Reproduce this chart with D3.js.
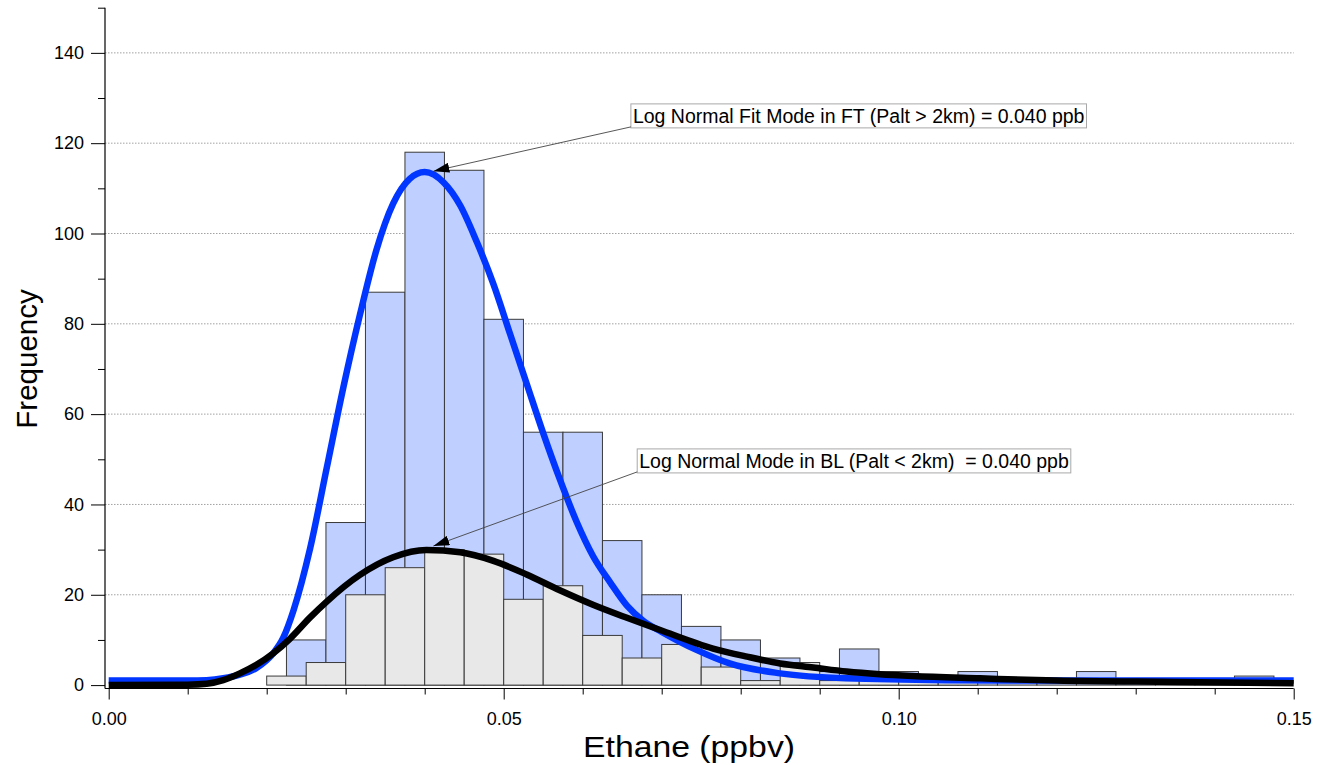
<!DOCTYPE html>
<html>
<head>
<meta charset="utf-8">
<script src="https://cdn.jsdelivr.net/npm/d3@7"></script>
<style>
    body { margin: 0; background: #fff; }
    svg { display: block; font-family: "Liberation Sans", Arial, sans-serif; }
</style>
</head>
<body>
<svg id="chart"></svg>
<script>
// histogram bins (ppbv), all bins 0.005 wide
var binWidth = 0.005;
var ftBinStart = 0.0225;   // free troposphere (Palt > 2km), blue
var ftCounts = [10, 36, 87, 118, 114, 81, 56, 56, 32, 20, 13, 10, 6, 3, 8, 3, 1, 3, 1, 1, 3, 1, 1, 1, 2];
var blBinStart = 0.020;    // boundary layer (Palt < 2km), grey
var blCounts = [2, 5, 20, 26, 30, 29, 19, 22, 11, 6, 9, 4, 1, 5, 1, 1, 1, 1];

// log normal fit curves
var ftFitX = [0.000, 0.010, 0.0124, 0.0145, 0.0166, 0.0187, 0.0208, 0.0221, 0.0234, 0.0255, 0.0276, 0.0297,
              0.0318, 0.0339, 0.0360, 0.0381, 0.0400, 0.0424, 0.0445, 0.0466, 0.0487, 0.0508, 0.0529, 0.0550,
              0.0571, 0.0592, 0.0613, 0.0635, 0.0656, 0.0677, 0.0700, 0.0744, 0.0786, 0.0850, 0.0934, 0.1060,
              0.1200, 0.1500];
var ftFitY = [1.0, 1.0, 1.1, 1.5, 2.3, 3.8, 7.0, 10.5, 16.6, 30.3, 48.1, 65.9,
              82.0, 96.4, 106.6, 112.1, 113.6, 111.3, 106.2, 98.1, 88.8, 77.8, 66.8, 55.8,
              45.6, 36.3, 28.6, 22.7, 17.6, 14.2, 11.8, 7.8, 4.8, 2.6, 1.5, 1.1,
              1.0, 1.0];
var blFitX = [0.000, 0.010, 0.0124, 0.0145, 0.0166, 0.0187, 0.0208, 0.0229, 0.0255, 0.0276, 0.0318, 0.0360,
              0.0402, 0.0445, 0.0487, 0.0529, 0.0571, 0.0613, 0.0656, 0.0698, 0.0765, 0.0808, 0.0850, 0.0892,
              0.0934, 0.0976, 0.1018, 0.1103, 0.1200, 0.1350, 0.1500];
var blFitY = [0.0, 0.1, 0.3, 1.1, 2.6, 4.5, 7.0, 10.2, 15.0, 18.5, 24.4, 28.3,
              29.9, 29.4, 27.5, 24.5, 21.0, 17.8, 14.9, 12.2, 8.1, 6.3, 4.8, 3.9,
              3.0, 2.4, 2.0, 1.5, 1.0, 0.7, 0.4];

var xTicks = [0, 0.05, 0.10, 0.15];
var xMinorTicks = [0.01, 0.02, 0.03, 0.04, 0.06, 0.07, 0.08, 0.09, 0.11, 0.12, 0.13, 0.14];
var yTicks = [0, 20, 40, 60, 80, 100, 120, 140];
var yMinorTicks = [10, 30, 50, 70, 90, 110, 130, 150];

var xTitle = "Ethane (ppbv)";
var yTitle = "Frequency";
var ftNote = "Log Normal Fit Mode in FT (Palt > 2km) = 0.040 ppb";
var blNote = "Log Normal Mode in BL (Palt < 2km)  = 0.040 ppb";

var width = 1328, height = 765;

var svg = d3.select("#chart")
    .attr("width", width)
    .attr("height", height);

// scales
var x = d3.scaleLinear().domain([0, 0.15]).range([108.7, 1293.7]);
var y = d3.scaleLinear().domain([0, 150]).range([685.1, 7.7]);

var axisX0 = 105;      // y axis line sits a little left of x=0
var axisY0 = 688.5;    // x axis line sits a little below y=0

// grid lines
svg.append("g")
    .selectAll("line")
    .data(yTicks.filter(function (d) { return d > 0; }))
    .enter()
    .append("line")
    .attr("x1", axisX0)
    .attr("x2", x(0.15))
    .attr("y1", function (d) { return y(d); })
    .attr("y2", function (d) { return y(d); })
    .style("stroke", "#8a8a8a")
    .style("stroke-width", 0.8)
    .style("stroke-dasharray", "1.5,1.5");

var barW = x(binWidth) - x(0);

// FT histogram
svg.append("g")
    .selectAll("rect")
    .data(ftCounts)
    .enter()
    .append("rect")
    .attr("x", function (d, i) { return x(ftBinStart + i * binWidth); })
    .attr("y", function (d) { return y(d); })
    .attr("width", barW)
    .attr("height", function (d) { return y(0) - y(d); })
    .style("fill", "#bfcfff")
    .style("stroke", "#3a3a3a")
    .style("stroke-width", 1);

// BL histogram
svg.append("g")
    .selectAll("rect")
    .data(blCounts)
    .enter()
    .append("rect")
    .attr("x", function (d, i) { return x(blBinStart + i * binWidth); })
    .attr("y", function (d) { return y(d); })
    .attr("width", barW)
    .attr("height", function (d) { return y(0) - y(d); })
    .style("fill", "#e8e8e8")
    .style("stroke", "#3a3a3a")
    .style("stroke-width", 1);

// fit curves
var line = d3.line()
    .x(function (d) { return x(d[0]); })
    .y(function (d) { return y(d[1]); })
    .curve(d3.curveMonotoneX);

svg.append("path")
    .datum(d3.zip(ftFitX, ftFitY))
    .attr("d", line)
    .style("fill", "none")
    .style("stroke", "#0036ff")
    .style("stroke-width", 6.5)
    .style("stroke-linejoin", "round");

svg.append("path")
    .datum(d3.zip(blFitX, blFitY))
    .attr("d", line)
    .style("fill", "none")
    .style("stroke", "#000")
    .style("stroke-width", 6.5)
    .style("stroke-linejoin", "round");

// Add X axis
svg.append("g")
    .attr("transform", "translate(0," + axisY0 + ")")
    .call(d3.axisBottom(x).tickValues(xMinorTicks).tickSize(6).tickFormat(""))
    .call(function (g) { g.select(".domain").remove(); });

var gx = svg.append("g")
    .attr("transform", "translate(0," + axisY0 + ")")
    .call(d3.axisBottom(x).tickValues(xTicks).tickSize(11).tickPadding(13).tickFormat(d3.format(".2f")));
gx.select(".domain").remove();
gx.selectAll("text").style("font-size", "18px").style("fill", "#000").style("font-family", "Liberation Sans, Arial, sans-serif");

svg.append("line")
    .attr("x1", axisX0).attr("x2", x(0.15))
    .attr("y1", axisY0).attr("y2", axisY0)
    .style("stroke", "#000").style("stroke-width", 1.2);

// Add Y axis
svg.append("g")
    .attr("transform", "translate(" + axisX0 + ",0)")
    .call(d3.axisLeft(y).tickValues(yMinorTicks).tickSize(7).tickFormat(""))
    .call(function (g) { g.select(".domain").remove(); });

var gy = svg.append("g")
    .attr("transform", "translate(" + axisX0 + ",0)")
    .call(d3.axisLeft(y).tickValues(yTicks).tickSize(14).tickPadding(7));
gy.select(".domain").remove();
gy.selectAll("text").style("font-size", "18px").style("fill", "#000").style("font-family", "Liberation Sans, Arial, sans-serif");

svg.append("line")
    .attr("x1", axisX0).attr("x2", axisX0)
    .attr("y1", y(150)).attr("y2", axisY0)
    .style("stroke", "#000").style("stroke-width", 1.2);

// axis titles
svg.append("text")
    .attr("x", 689)
    .attr("y", 757)
    .attr("textLength", 212)
    .attr("lengthAdjust", "spacingAndGlyphs")
    .style("text-anchor", "middle")
    .style("font-size", "29px")
    .text(xTitle);

svg.append("text")
    .attr("transform", "translate(37,359) rotate(-90)")
    .style("text-anchor", "middle")
    .style("font-size", "29.5px")
    .text(yTitle);

// annotations (box top-left and arrow tip in data units)
var notes = [
    {text: ftNote, bx: 0.0661, by: 128.7, tx: 0.0411, ty: 113.8},
    {text: blNote, bx: 0.0669, by: 52.3, tx: 0.0411, ty: 30.8}
];

svg.append("defs").append("marker")
    .attr("id", "arrow")
    .attr("viewBox", "0 0 16 10")
    .attr("refX", 16)
    .attr("refY", 5)
    .attr("markerWidth", 16)
    .attr("markerHeight", 10)
    .attr("markerUnits", "userSpaceOnUse")
    .attr("orient", "auto")
    .append("path")
    .attr("d", "M0,0L16,5L0,10Z")
    .style("fill", "#000");

notes.forEach(function (n) {
    var bx = x(n.bx), by = y(n.by);
    var g = svg.append("g");
    var box = g.append("rect")
        .attr("x", bx)
        .attr("y", by)
        .attr("height", 24)
        .style("fill", "#fff")
        .style("stroke", "#a8a8a8")
        .style("stroke-width", 1);
    var t = g.append("text")
        .attr("x", bx + 2)
        .attr("y", by + 19)
        .attr("xml:space", "preserve")
        .style("white-space", "pre")
        .style("font-size", "19.5px")
        .text(n.text);
    box.attr("width", t.node().getComputedTextLength() + 4);
    g.append("line")
        .attr("x1", bx)
        .attr("y1", by + 23)
        .attr("x2", x(n.tx))
        .attr("y2", y(n.ty))
        .attr("marker-end", "url(#arrow)")
        .style("stroke", "#444")
        .style("stroke-width", 0.9);
});
</script>
</body>
</html>
